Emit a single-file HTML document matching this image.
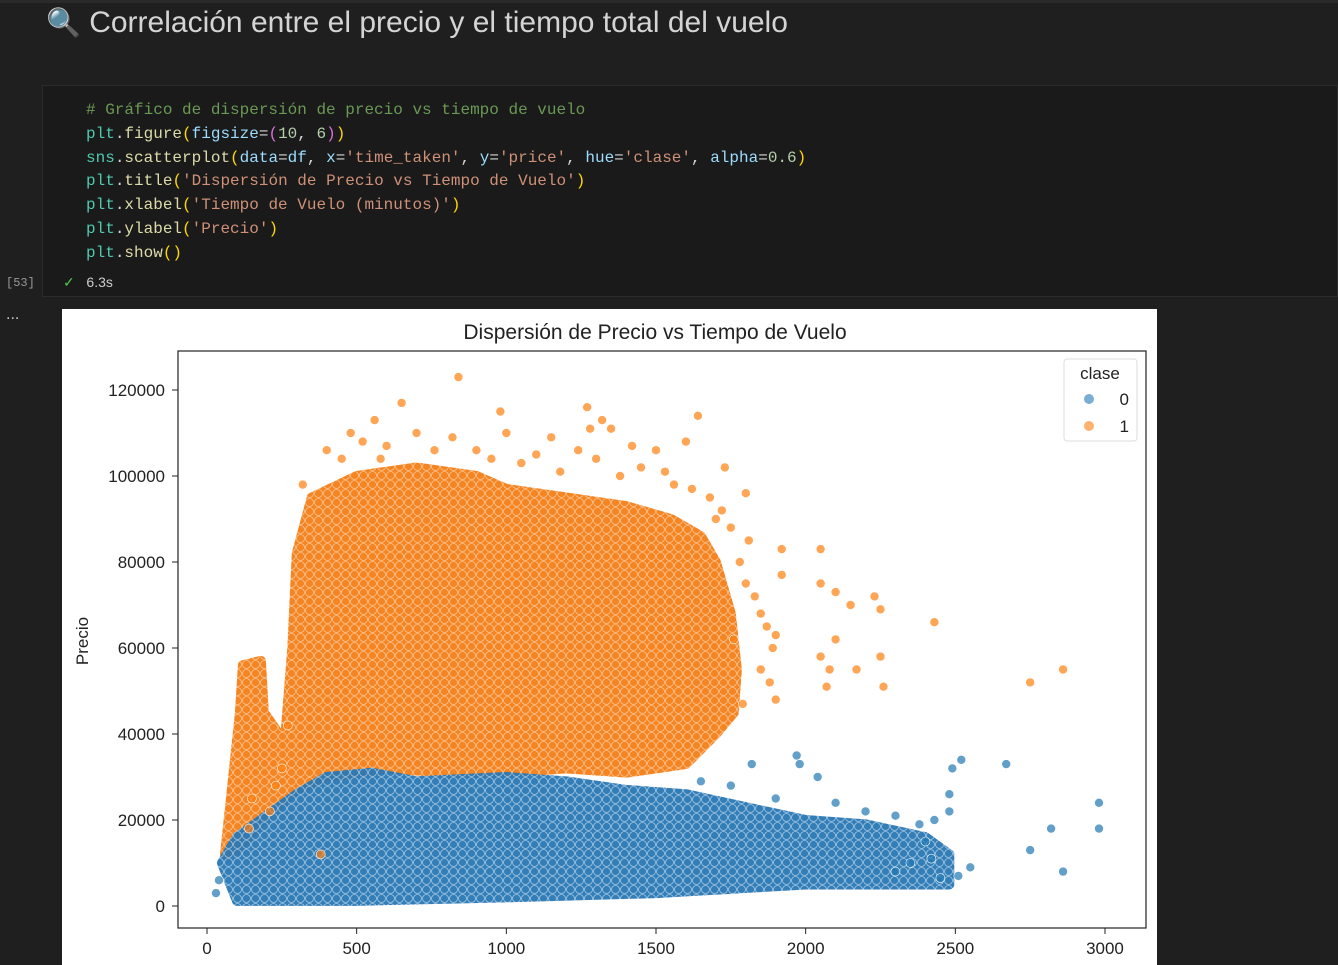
<!DOCTYPE html>
<html><head><meta charset="utf-8"><style>
body{margin:0;width:1338px;height:965px;background:#1f1f1f;overflow:hidden;position:relative;font-family:"Liberation Sans",sans-serif}
.title{position:absolute;left:46px;top:6px;color:#d4d4d4;font-size:30px}
.code{position:absolute;left:42px;top:85px;width:1296px;height:212px;background:#1a1a1a;border:1px solid #2b2b2b;box-sizing:border-box}
.code pre{margin:0;position:absolute;left:43px;top:13px;font-family:"Liberation Mono",monospace;font-size:16px;line-height:23.8px;color:#d4d4d4}
.c{color:#6a9955}.t{color:#4ec9b0}.f{color:#dcdcaa}.p{color:#9cdcfe}.s{color:#ce9178}.n{color:#b5cea8}.y{color:#ffd700}.m{color:#da70d6}
</style></head><body>
<div style="position:absolute;left:0;top:0;width:1338px;height:3px;background:#2a2a2a"></div>
<div class="title"><span style="font-size:28px">🔍</span> Correlación entre el precio y el tiempo total del vuelo</div>
<div class="code"><pre><span class="c"># Gráfico de dispersión de precio vs tiempo de vuelo</span>
<span class="t">plt</span>.<span class="f">figure</span><span class="y">(</span><span class="p">figsize</span>=<span class="m">(</span><span class="n">10</span>, <span class="n">6</span><span class="m">)</span><span class="y">)</span>
<span class="t">sns</span>.<span class="f">scatterplot</span><span class="y">(</span><span class="p">data</span>=<span class="p">df</span>, <span class="p">x</span>=<span class="s">'time_taken'</span>, <span class="p">y</span>=<span class="s">'price'</span>, <span class="p">hue</span>=<span class="s">'clase'</span>, <span class="p">alpha</span>=<span class="n">0.6</span><span class="y">)</span>
<span class="t">plt</span>.<span class="f">title</span><span class="y">(</span><span class="s">'Dispersión de Precio vs Tiempo de Vuelo'</span><span class="y">)</span>
<span class="t">plt</span>.<span class="f">xlabel</span><span class="y">(</span><span class="s">'Tiempo de Vuelo (minutos)'</span><span class="y">)</span>
<span class="t">plt</span>.<span class="f">ylabel</span><span class="y">(</span><span class="s">'Precio'</span><span class="y">)</span>
<span class="t">plt</span>.<span class="f">show</span><span class="y">()</span></pre>
<div style="position:absolute;left:20px;top:188px;color:#ccc;font-size:14px"><span style="color:#4ec94e">✓</span>&nbsp;&nbsp;&nbsp;6.3s</div>
</div>
<div style="position:absolute;left:6px;top:276px;color:#999;font-size:12px;font-family:'Liberation Mono',monospace">[53]</div>
<div style="position:absolute;left:6px;top:306px;color:#ccc;font-size:16px">...</div>
<svg id="chart" style="position:absolute;left:62px;top:309px" width="1095" height="656"></svg>
<script>
const blueCloudX=[50,100,200,300,400,550,700,1000,1200,1400,1600,1800,2000,2200,2400,2480,2480,2000,1500,1000,500,100];
const blueCloudY=[10000,16000,21000,26000,30000,31000,29000,30000,29000,27000,26000,23000,20000,19000,16000,12000,5000,5000,3000,2000,1200,1200];
const orangeCloudX=[60,80,110,120,180,190,260,285,300,350,500,700,900,1000,1200,1400,1550,1650,1700,1750,1770,1760,1700,1600,1400,1200,1000,800,600,400,300,200,100];
const orangeCloudY=[12000,25000,45000,56000,57000,45000,38000,60000,82000,95000,100000,102000,100000,97000,95000,93000,90000,86000,80000,68000,55000,45000,40000,33000,31000,32000,31000,31000,32000,30000,27000,21000,13000];
const orangeX=[840,650,980,1270,1640,1000,1730,1800,1810,1920,1920,2050,2050,2100,2150,2230,2250,2100,2050,2080,2170,2250,2260,2070,2430,2750,2860,1900,1890,1900,1850,380,1320,1600,1350,1150,560,
 320,400,450,520,600,700,760,820,900,950,1050,1100,1180,1240,1300,1380,1450,1500,1560,1620,1680,1700,1750,1780,1800,1830,1870,1850,1880,1790,1760,1720,250,230,270,210,150,140,1280,580,480,1420,1530];
const orangeY=[123000,117000,115000,116000,114000,110000,102000,96000,85000,83000,77000,83000,75000,73000,70000,72000,69000,62000,58000,55000,55000,58000,51000,51000,66000,52000,55000,63000,60000,48000,68000,12000,113000,108000,111000,109000,113000,
 98000,106000,104000,108000,107000,110000,106000,109000,106000,104000,103000,105000,101000,106000,104000,100000,102000,106000,98000,97000,95000,90000,88000,80000,75000,72000,65000,55000,52000,47000,62000,92000,32000,28000,42000,22000,25000,18000,111000,104000,110000,107000,101000];
const blueX=[1970,2040,2520,2490,2670,2480,2480,2980,2980,2820,2750,2860,2430,2400,2510,2450,1980,1820,2300,2350,2550,2420,2300,2200,2100,1900,1750,1650,30,40,2380];
const blueY=[35000,30000,34000,32000,33000,26000,22000,24000,18000,18000,13000,8000,20000,15000,7000,6500,33000,33000,8000,10000,9000,11000,21000,22000,24000,25000,28000,29000,3000,6000,19000];
const xTicks=[0,500,1000,1500,2000,2500,3000];
const yTicks=[0,20000,40000,60000,80000,100000,120000];
const NS='http://www.w3.org/2000/svg';
const svg=document.getElementById('chart');
const X=v=>145+v*0.29933, Y=v=>597-v*0.0043;
function mk(t,a,p){const e=document.createElementNS(NS,t);for(const k in a)e.setAttribute(k,a[k]);(p||svg).appendChild(e);return e;}
const bg=mk('rect',{x:0,y:0,width:1095,height:656,fill:'#fff'});


const defs=mk('defs',{});
[['pb','#2a78b5','#9cc3e0'],['po','#f57f17','#fbc08a']].forEach(([id,c,l])=>{
 const p=mk('pattern',{id:id,width:9,height:9,patternUnits:'userSpaceOnUse'},defs);
 mk('rect',{width:9,height:9,fill:c},p);
 mk('circle',{cx:4.5,cy:4.5,r:4,fill:'none',stroke:l,'stroke-width':0.8},p);
});
const title=mk('text',{x:593,y:30,'text-anchor':'middle','font-size':21,fill:'#222'});
title.textContent='Dispersión de Precio vs Tiempo de Vuelo';


function poly(xs,ys,fill,name){const pts=xs.map((x,i)=>X(x)+','+Y(ys[i])).join(' ');
 const e=mk('polygon',{points:pts,fill:fill,'stroke-linejoin':'round',stroke:fill,'stroke-width':10,opacity:0.95});
 
 }
poly(orangeCloudX,orangeCloudY,'url(#po)','orange-cloud-clase-1');
poly(blueCloudX,blueCloudY,'url(#pb)','blue-cloud-clase-0');
function pts(xs,ys,c,name){xs.forEach((x,i)=>{const e=mk('circle',{cx:X(x),cy:Y(ys[i]),r:4.5,fill:c,'fill-opacity':0.7,stroke:'#fff','stroke-width':0.6});
 
 });}
pts(blueX,blueY,'#1f77b4','point-clase-0');
pts(orangeX,orangeY,'#ff7f0e','point-clase-1');
const frame=mk('rect',{x:116,y:42,width:968,height:577,fill:'none',stroke:'#222','stroke-width':1.2});


xTicks.forEach(v=>{mk('line',{x1:X(v),x2:X(v),y1:619,y2:625,stroke:'#222'});
 const t=mk('text',{x:X(v),y:645,'text-anchor':'middle','font-size':17,fill:'#222'});t.textContent=v;
 
 });
yTicks.forEach(v=>{mk('line',{x1:110,x2:116,y1:Y(v),y2:Y(v),stroke:'#222'});
 const t=mk('text',{x:103,y:Y(v)+6,'text-anchor':'end','font-size':17,fill:'#222'});t.textContent=v;
 
 });
const yl=mk('text',{x:26,y:332,'text-anchor':'middle','font-size':17,fill:'#222',transform:'rotate(-90 26 332)'});
yl.textContent='Precio';


const lg=mk('g',{});


mk('rect',{x:1002,y:50,width:73,height:82,rx:3,fill:'#fff',stroke:'#ddd'},lg);
const lt=mk('text',{x:1038,y:70,'text-anchor':'middle','font-size':17,fill:'#222'},lg);lt.textContent='clase';
[['#1f77b4','0',90],['#ff7f0e','1',117]].forEach(([c,l,y])=>{mk('circle',{cx:1027,cy:y,r:5,fill:c,'fill-opacity':0.6},lg);
 const t=mk('text',{x:1067,y:y+6,'text-anchor':'end','font-size':17,fill:'#222'},lg);t.textContent=l;});
</script>
</body></html>
